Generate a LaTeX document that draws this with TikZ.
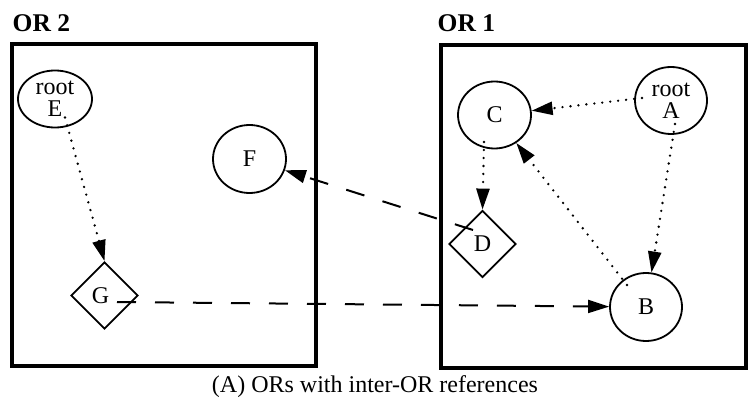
\documentclass[tikz,border=0pt]{standalone}
\usepackage{fontspec}
\setmainfont{Liberation Serif}
\usetikzlibrary{shapes.geometric,arrows.meta}
\tikzset{
  orbox/.style={line width=4pt},
  obj/.style={ellipse,draw,line width=1.8pt,inner sep=0pt,font=\fontsize{24}{22}\selectfont,align=center},
  sur/.style={diamond,draw,line width=1.8pt,inner sep=0pt,aspect=1,minimum width=67pt,minimum height=67pt,font=\fontsize{24}{22}\selectfont},
  ttl/.style={font=\fontsize{25.5}{26}\selectfont\bfseries,anchor=base west,inner sep=0pt},
  tip/.style={-{Triangle[length=21pt,width=13pt]}},
  intra/.style={tip,line width=2.6pt,line cap=round,dash pattern=on 0pt off 8pt},
  inter/.style={tip,line width=2pt,dash pattern=on 19pt off 19pt},
}
\begin{document}
\begin{tikzpicture}[x=1pt,y=-1pt]
\useasboundingbox (0,0) rectangle (751,403);
% boxes
\draw[orbox] (12,44.5) rectangle (315.5,365.5);
\draw[orbox] (441.3,45.5) rectangle (745.5,367.5);
\node[ttl] (t2) at (12.5,31.5) {OR 2};
\node[ttl] (t1) at (437.5,31.5) {OR 1};
% OR 2 objects
\node[obj,minimum width=74pt,minimum height=57pt] (E) at (55,99) {root\\E};
\node[obj,minimum width=73pt,minimum height=68pt] (F) at (249.5,159) {F};
\node[sur] (G) at (104.5,295.5) {\hspace*{-8pt}G};
% OR 1 objects
\node[obj,minimum width=73pt,minimum height=67pt] (C) at (494.5,115) {C};
\node[obj,minimum width=72pt,minimum height=67pt] (A) at (671,100.5) {root\\A};
\node[sur] (D) at (482.5,244) {D};
\node[obj,minimum width=72pt,minimum height=68pt] (B) at (646,307) {B};
% start points of references
\coordinate (Es) at ([shift={(10,18.5)}]E.center);
\coordinate (As1) at ([shift={(-29,-2.5)}]A.center);
\coordinate (As2) at ([shift={(4,23.5)}]A.center);
\coordinate (Cs) at ([shift={(-10.5,27)}]C.center);
\coordinate (Bs) at ([shift={(-19,-22)}]B.center);
\coordinate (Ds) at ([shift={(-9.5,-14)}]D.center);
\coordinate (Gs) at ([shift={(12.5,6.5)}]G.center);
% intra-OR references
\draw[intra] (Es) -- (G.north);
\draw[intra] (As1) -- (C);
\draw[intra] (As2) -- (B);
\draw[intra] (Cs) -- (D.north);
\draw[intra] (Bs) -- (C);
% inter-OR references
\draw[inter] (Ds) -- (F);
\draw[inter] (Gs) -- (B);
% caption
\node[font=\fontsize{24}{26}\selectfont,anchor=base,inner sep=0pt] (cap) at (375,392.5) {(A) ORs with inter-OR references};
\end{tikzpicture}
\end{document}
